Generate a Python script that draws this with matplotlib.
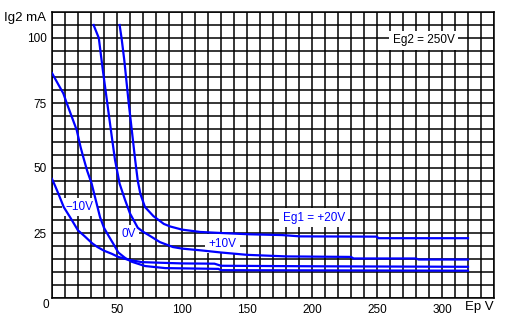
import numpy as np
import matplotlib
matplotlib.use("Agg")
import matplotlib.pyplot as plt

# Data (Ep in V, Ig2 in mA)
ep_m10 = [0, 2.5, 5, 9, 14, 20, 25, 31, 35, 40, 46, 51, 58, 69, 87, 100, 125, 130, 200, 320]
ig_m10 = [45.8, 43, 40, 35, 31, 26, 23.8, 21, 19.6, 18.2, 17, 15.8, 14.8, 13.8, 13.5, 13.3, 13.2, 12.4, 12.2, 12.0]

ep_0 = [0, 5, 8.7, 11.3, 15, 19, 22, 24, 27, 30.5, 34, 37, 40, 44, 47, 51, 56, 61, 71.5, 87, 128, 130, 320]
ig_0 = [86.5, 82, 78.7, 75, 70, 64.6, 58, 54.3, 49, 44, 37, 31, 27, 23.5, 21, 17.5, 15.5, 14, 12.3, 11.5, 11.2, 10.7, 10.5]

ep_p10 = [32, 36, 39, 42.5, 46, 48.5, 52, 56, 60, 66, 70, 75, 83, 93, 100, 115, 130, 150, 180, 230, 232, 280, 282, 320]
ig_p10 = [105, 100, 88, 75, 62, 53, 44, 38, 32.5, 27, 25.5, 24, 21.5, 19.6, 19, 18.3, 17.5, 16.6, 16, 15.8, 15.2, 15.2, 14.8, 14.8]

ep_p20 = [52, 53.5, 55.6, 59, 61.5, 64, 66, 68, 71.5, 78, 86, 91, 100, 114, 130, 152, 177, 191, 250, 251, 320]
ig_p20 = [105, 100, 91.5, 75, 64, 53, 45, 40, 35, 31.5, 28.5, 27.5, 26.3, 25.4, 25, 24.5, 24.2, 23.7, 23.6, 23, 23]

x_labels = [0, 50, 100, 150, 200, 250, 300]
y_labels = [25, 50, 75, 100]

plt.rcParams['font.family'] = ['Liberation Sans', 'DejaVu Sans']

fig = plt.figure(figsize=(5.08, 3.24), dpi=100)
ax = fig.add_axes([52/508, 1-298/324, (494-52)/508, (298-12)/324])
ax.set_xlim(0, 340)
ax.set_ylim(0, 110)

xt = np.arange(0, 341, 10)
ax.set_xticks(xt)
ax.set_xticklabels([str(int(v)) if (v in x_labels and v != 0) else '' for v in xt])
yt = np.arange(0, 111, 5)
ax.set_yticks(yt)
ax.set_yticklabels([str(int(v)) if v in y_labels else '' for v in yt])
ax.tick_params(length=0, labelsize=8.5, pad=4)
ax.grid(True, color='black', linewidth=1.1, zorder=1)
ax.set_axisbelow(True)
for s in ax.spines.values():
    s.set_linewidth(1.1)
    s.set_color('black')

for ep, ig in [(ep_m10, ig_m10), (ep_0, ig_0), (ep_p10, ig_p10), (ep_p20, ig_p20)]:
    ax.plot(ep, ig, color='#0000ff', linewidth=1.6, zorder=3, solid_joinstyle='round')

box = dict(facecolor='white', edgecolor='none', pad=2.5)
ax.text(21, 35, '\u221210V', color='#0000ff', fontsize=8.5, ha='center', va='center', bbox=box, zorder=2)
ax.text(59, 24.6, '0V', color='#0000ff', fontsize=8.5, ha='center', va='center', bbox=box, zorder=2)
ax.text(131, 20.8, '+10V', color='#0000ff', fontsize=8.5, ha='center', va='center', bbox=box, zorder=2)
ax.text(201.5, 30.8, 'Eg1 = +20V', color='#0000ff', fontsize=8.5, ha='center', va='center', bbox=box, zorder=2)
ax.text(286, 99.2, 'Eg2 = 250V', color='black', fontsize=8.5, ha='center', va='center', bbox=box, zorder=2)

ax.text(-4.5, -2.8, '0', fontsize=8.5, ha='center', va='center', clip_on=False)
ax.text(329, -3.5, 'Ep V', fontsize=9.5, ha='center', va='center', clip_on=False)
fig.text(4/508, 1-17.5/324, 'Ig2 mA', fontsize=9.5, ha='left', va='center')

fig.savefig('out.png', dpi=100)
